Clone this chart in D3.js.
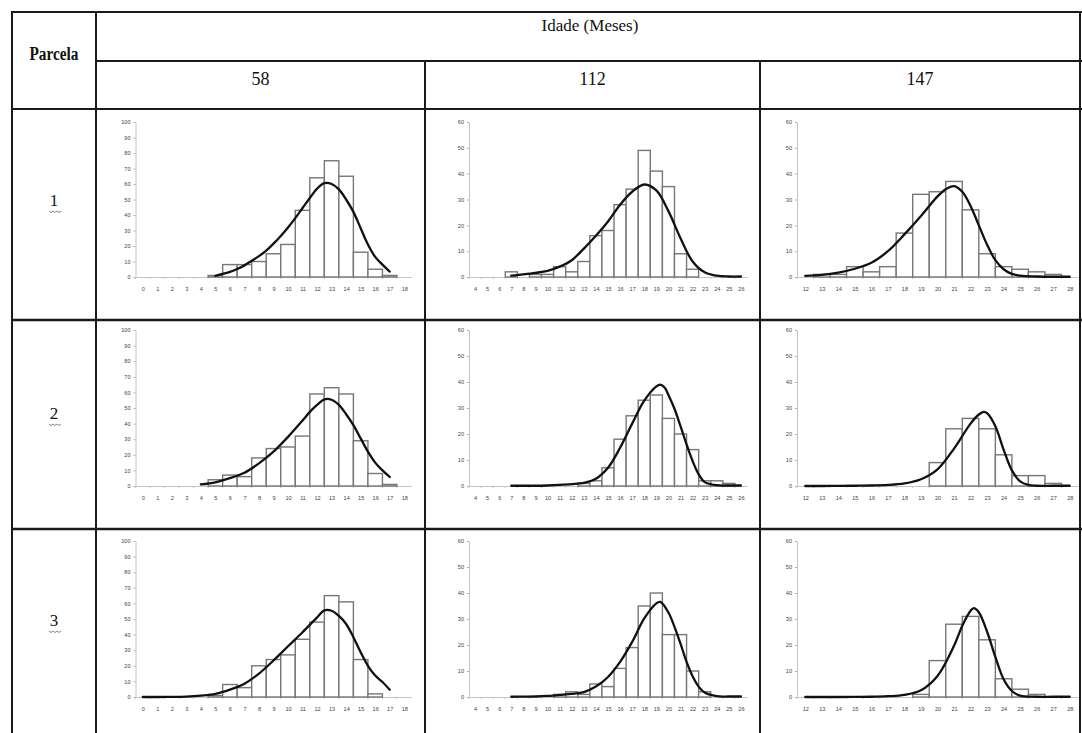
<!DOCTYPE html>
<html><head><meta charset="utf-8">
<script src="https://cdn.jsdelivr.net/npm/d3@7"></script>
<style>body{margin:0;background:#fff}svg{display:block}</style>
</head><body><svg id="c" width="1082" height="733"></svg>
<script>
// ---------- data ----------
const headerTitle = "Idade (Meses)";
const rowHeader = "Parcela";
const idades = ["58", "112", "147"];
const parcelas = ["1", "2", "3"];

const xCats58  = [0,1,2,3,4,5,6,7,8,9,10,11,12,13,14,15,16,17,18];
const xCats112 = [4,5,6,7,8,9,10,11,12,13,14,15,16,17,18,19,20,21,22,23,24,25,26];
const xCats147 = [12,13,14,15,16,17,18,19,20,21,22,23,24,25,26,27,28];
const yTicks58  = [0,10,20,30,40,50,60,70,80,90,100];
const yTicks60  = [0,10,20,30,40,50,60];

// histogram frequencies (aligned with the category arrays)
const bars58_p1  = [0,0,0,0,0,1,8,8,10,15,21,43,64,75,65,16,5,1,0];
const bars58_p2  = [0,0,0,0,0,4,7,6,18,24,25,32,59,63,59,29,8,1,0];
const bars58_p3  = [0,0,0,0,0,1,8,6,20,24,27,37,48,65,61,24,2,0,0];
const bars112_p1 = [0,0,0,2,0,1,1,4,2,6,16,18,28,34,49,41,35,9,3,0,0,0,0];
const bars112_p2 = [0,0,0,0,0,0,0,0,0,1,2,7,18,27,33,35,26,20,14,2,2,1,0];
const bars112_p3 = [0,0,0,0,0,0,0,1,2,1,5,4,11,19,35,40,24,24,10,2,0,0,0];
const bars147_p1 = [0,1,1,4,2,4,17,32,33,37,26,9,4,3,2,1,0];
const bars147_p2 = [0,0,0,0,0,0,0,0,9,22,26,22,12,4,4,1,0];
const bars147_p3 = [0,0,0,0,0,0,0,1,14,28,31,22,7,3,1,0,0];

// fitted curves
const curve58_p1_x = [5,5.5,6,6.5,7,7.5,8,8.5,9,9.5,10,10.5,11,11.5,12,12.5,13,13.5,14,14.5,15,15.5,16,16.5,17];
const curve58_p1_y = [0.8,2,3.3,5.2,7.5,10.5,13.5,17,21.5,26.5,32,38,44.5,51,57,60.5,60,56.5,50,42,31.5,21,13,8,3.5];
const curve58_p2_x = [4,5,6,7,8,9,10,11,11.5,12,12.5,13,13.5,14,14.5,15,15.5,16,16.5,17];
const curve58_p2_y = [1,2.4,5,8.5,14.5,22,31.5,42,47.5,52,55.5,55.3,52,46,39,30.5,22,15,10,5.8];
const curve58_p3_x = [0,1,2,3,4,5,6,7,8,9,10,11,12,12.5,13,13.5,14,14.5,15,15.5,16,16.5,17];
const curve58_p3_y = [0,0,0.1,0.3,0.9,2,4.7,8.5,15,23.4,32.5,41.5,51,55.5,55.3,52,46.8,38.3,28.7,20,13.8,9.6,4.7];
const curve112_p1_x = [7,8,9,10,11,12,13,14,15,16,17,18,19,20,21,22,23,24,25,26];
const curve112_p1_y = [0.5,1,1.6,2.4,4,6.5,11,16,21.5,28,33,35.8,33.5,25.5,15,6,1.8,0.5,0.2,0.2];
const curve112_p2_x = [7,8,9,10,11,12,13,14,15,16,17,18,19,19.33,19.7,20,20.5,21,21.5,22,22.5,23,24,25,26];
const curve112_p2_y = [0.1,0.1,0.1,0.2,0.4,0.7,1.2,2.8,7,14.7,24,32.8,38.3,39,37.8,35,29.7,23,16,9.6,4.5,1.5,0.3,0.2,0.2];
const curve112_p3_x = [7,8,9,10,11,12,13,14,15,16,17,18,19,19.33,20,20.5,21,21.5,22,22.5,23,24,25,26];
const curve112_p3_y = [0.1,0.15,0.2,0.4,0.8,1.2,1.9,4,7.7,13.5,21.2,30.2,36,36.6,32.5,27,20.5,13.5,8,4,1.7,0.3,0.2,0.2];
const curve147_p1_x = [12,13,14,15,16,17,18,19,20,20.5,21,21.5,22,22.5,23,23.5,24,24.5,25,26,27,28];
const curve147_p1_y = [0.4,0.8,1.7,3.2,5.5,10,16.5,23.6,31.2,34,35.2,33,27.5,20,12.5,6.5,3,1.2,0.5,0.2,0.1,0.1];
const curve147_p2_x = [12,13,14,15,16,17,18,19,20,21,22,22.5,22.8,23,23.5,24,24.5,25,25.5,26,27,28];
const curve147_p2_y = [0,0,0.05,0.1,0.2,0.4,1,2.6,6.4,14.4,24,27.5,28.5,28,23,14,6,1.8,0.4,0.1,0.1,0.1];
const curve147_p3_x = [12,13,14,15,16,17,18,19,20,21,21.5,22,22.2,22.5,23,23.5,24,24.5,25,26,27,28];
const curve147_p3_y = [0,0,0,0.05,0.1,0.3,0.8,2.6,8.1,19.7,27.4,33.2,34.2,32.6,25.1,15.4,6.8,2.3,0.5,0.1,0.1,0.1];

// ---------- layout ----------
const svg = d3.select("#c");
const T = {left:12, right:1080, top:12, col0:96, midH:61, headB:109, rows:[109,320,529,745], cols:[96,425,760,1080]};
const colGeom = [{l:135.5,r:411.5},{l:469,r:747},{l:797,r:1078}];
const rowGeom = [{t:122,b:277,lab:287},{t:330,b:486,lab:496},{t:541,b:697,lab:707}];

const cols = [
  {cats:xCats58,  yt:yTicks58, ymax:100, bars:[bars58_p1,bars58_p2,bars58_p3],
   cx:[curve58_p1_x,curve58_p2_x,curve58_p3_x], cy:[curve58_p1_y,curve58_p2_y,curve58_p3_y]},
  {cats:xCats112, yt:yTicks60, ymax:60, bars:[bars112_p1,bars112_p2,bars112_p3],
   cx:[curve112_p1_x,curve112_p2_x,curve112_p3_x], cy:[curve112_p1_y,curve112_p2_y,curve112_p3_y]},
  {cats:xCats147, yt:yTicks60, ymax:60, bars:[bars147_p1,bars147_p2,bars147_p3],
   cx:[curve147_p1_x,curve147_p2_x,curve147_p3_x], cy:[curve147_p1_y,curve147_p2_y,curve147_p3_y]}
];

// ---------- charts ----------
cols.forEach((c, ci) => {
  parcelas.forEach((p, ri) => {
    const g = svg.append("g");
    const cg = colGeom[ci], rg = rowGeom[ri];
    const x = d3.scaleLinear().domain([c.cats[0]-0.5, c.cats[c.cats.length-1]+0.5]).range([cg.l, cg.r]);
    const y = d3.scaleLinear().domain([0, c.ymax]).range([rg.b, rg.t]);

    // y axis
    const ya = g.append("g").attr("transform", `translate(${cg.l},0)`)
      .call(d3.axisLeft(y).tickValues(c.yt).tickSize(2).tickPadding(3).tickSizeOuter(0));
    ya.select(".domain").attr("stroke", "#c4c4c4");
    ya.selectAll(".tick line").attr("stroke", "#b0b0b0");
    ya.selectAll("text").attr("font-family", "Liberation Sans, Arial, sans-serif").attr("font-size", 5.6).attr("fill", "#444");

    // x axis
    const xa = g.append("g").attr("transform", `translate(0,${rg.b})`)
      .call(d3.axisBottom(x).tickValues(c.cats).tickSize(0).tickPadding(rg.lab - rg.b).tickSizeOuter(0));
    xa.select(".domain").attr("stroke", "#c4c4c4");
    xa.selectAll("text").attr("font-family", "Liberation Sans, Arial, sans-serif").attr("font-size", 5.6).attr("fill", "#444");
    // boundary ticks
    g.selectAll("line.bt").data(c.cats).join("line")
      .attr("x1", d => x(d-0.5)).attr("x2", d => x(d-0.5))
      .attr("y1", rg.b).attr("y2", rg.b+2).attr("stroke", "#c4c4c4");

    // bars
    const data = c.cats.map((k, i) => ({k, v: c.bars[ri][i]})).filter(d => d.v > 0);
    g.selectAll("rect.bar").data(data).join("rect")
      .attr("x", d => x(d.k-0.5)).attr("width", d => x(d.k+0.5)-x(d.k-0.5))
      .attr("y", d => y(d.v)).attr("height", d => y(0)-y(d.v))
      .attr("fill", "#fff").attr("stroke", "#777").attr("stroke-width", 1.4);

    // curve
    const pts = c.cx[ri].map((xv, i) => [xv, c.cy[ri][i]]);
    g.append("path").datum(pts)
      .attr("d", d3.line().x(d => x(d[0])).y(d => y(d[1])).curve(d3.curveCatmullRom.alpha(0.5)))
      .attr("fill", "none").attr("stroke", "#111").attr("stroke-width", 2.3)
      .attr("stroke-linecap", "round").attr("stroke-linejoin", "round");
  });
});

// ---------- table ----------
const L = svg.append("g").attr("stroke", "#1a1a1a").attr("stroke-width", 2).attr("fill", "none");
const hline = (x1, x2, yy, w) => L.append("line").attr("x1", x1).attr("x2", x2).attr("y1", yy).attr("y2", yy).attr("stroke-width", w||2);
const vline = (xx, y1, y2, w) => L.append("line").attr("x1", xx).attr("x2", xx).attr("y1", y1).attr("y2", y2).attr("stroke-width", w||2);
hline(T.left-1, T.right+2, T.top);
hline(T.col0, T.right+2, T.midH);
hline(T.left-1, T.right+2, T.headB);
hline(T.left-1, T.right+2, T.rows[1], 2.4);
hline(T.left-1, T.right+2, T.rows[2], 2.4);
vline(T.left, T.top, 740);
vline(T.col0, T.top, 740);
vline(T.cols[1], T.midH, 740);
vline(T.cols[2], T.midH, 740);
vline(T.right, T.top, 740);

const serif = "Liberation Serif, Times New Roman, serif";
svg.append("text").attr("x", 54).attr("y", 55).attr("text-anchor", "middle")
  .attr("font-family", serif).attr("font-weight", "bold").attr("font-size", 17).attr("fill", "#111")
  .attr("transform", "translate(54,0) scale(0.9,1.1) translate(-54,0)")
  .text(rowHeader);
svg.append("text").attr("x", 590).attr("y", 31).attr("text-anchor", "middle")
  .attr("font-family", serif).attr("font-size", 17).attr("fill", "#111").text(headerTitle);
idades.forEach((t, i) => {
  const cx = (T.cols[i] + T.cols[i+1]) / 2;
  svg.append("text").attr("x", cx).attr("y", 85).attr("text-anchor", "middle")
    .attr("font-family", serif).attr("font-size", 18).attr("fill", "#111").text(t);
});
const rowMid = [206, 419, 626];
parcelas.forEach((t, i) => {
  svg.append("text").attr("x", 54).attr("y", rowMid[i]).attr("text-anchor", "middle")
    .attr("font-family", serif).attr("font-size", 17).attr("fill", "#111").text(t);
  // spell-check style wavy underline
  const wy = rowMid[i] + 5, pts = [];
  for (let k = 0; k <= 6; k++) pts.push([49 + k*2, wy + (k % 2 ? 1.5 : 0)]);
  svg.append("path").attr("d", d3.line()(pts)).attr("fill", "none").attr("stroke", "#777").attr("stroke-width", 0.9);
});
</script>
</body></html>
